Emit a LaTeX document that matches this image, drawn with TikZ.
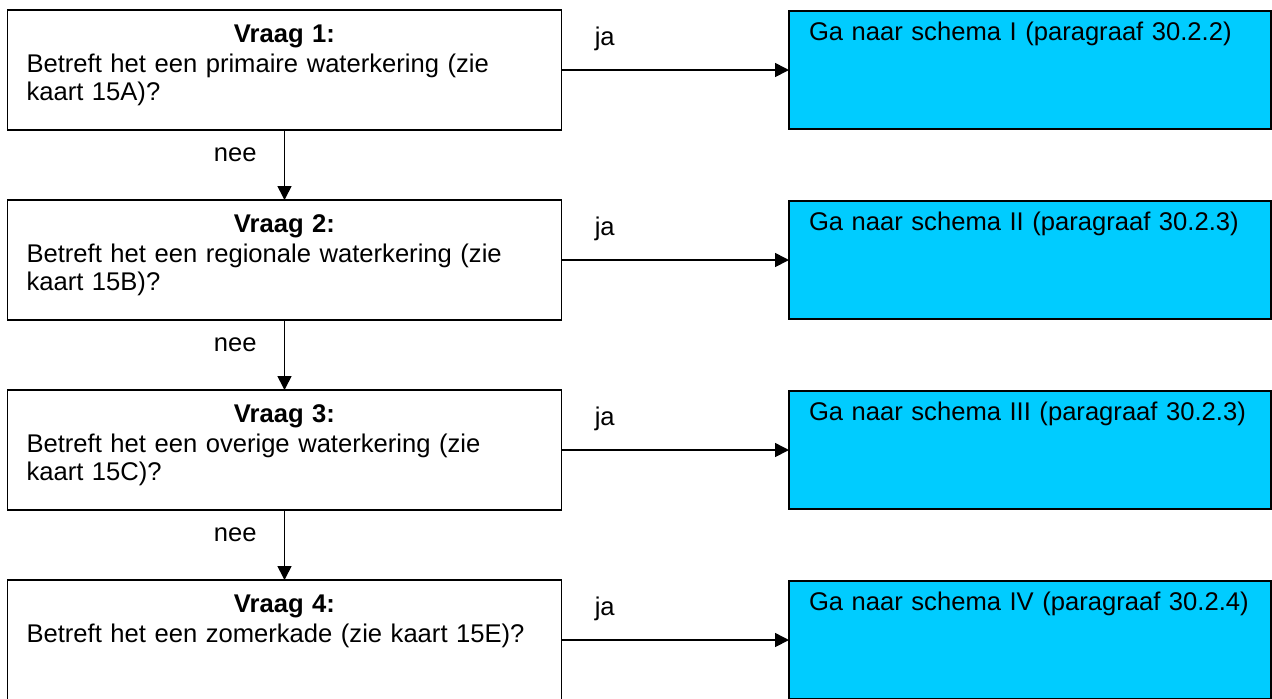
\documentclass[tikz,border=0pt]{standalone}
\usepackage{fontspec}
\setmainfont{Liberation Sans}
\usetikzlibrary{positioning,arrows.meta}
\definecolor{schemablue}{RGB}{0,204,255}
\tikzset{
  vraag/.style={draw, line width=0.8pt, outer sep=0pt, text width=258pt, align=left,
    inner xsep=9.5pt, inner ysep=0pt, text height=16pt, text depth=44pt,
    font=\fontsize{12.8}{14}\selectfont},
  schema/.style={draw, fill=schemablue, line width=0.8pt, outer sep=0pt, text width=221pt, align=left,
    inner xsep=10pt, inner ysep=0pt, text height=14.5pt, text depth=44.25pt,
    font=\fontsize{12.8}{14}\selectfont},
  pijl/.style={-{Triangle[length=7pt,width=7pt]}, line width=0.8pt},
  tekst/.style={inner sep=3pt, font=\fontsize{12.8}{14}\selectfont}
}
\begin{document}
\begin{tikzpicture}[x=1pt,y=1pt]
  \useasboundingbox (0,0) rectangle (636,-349);
  \node[vraag, anchor=north west] (v1) at (3.75,-5) {\makebox[\linewidth]{\bfseries Vraag 1:}\\[1pt]Betreft het een primaire waterkering (zie\\kaart 15A)?};
  \node[vraag, below=35pt of v1] (v2) {\makebox[\linewidth]{\bfseries Vraag 2:}\\[1pt]Betreft het een regionale waterkering (zie\\kaart 15B)?};
  \node[vraag, below=35pt of v2] (v3) {\makebox[\linewidth]{\bfseries Vraag 3:}\\[1pt]Betreft het een overige waterkering (zie\\kaart 15C)?};
  \node[vraag, below=35pt of v3] (v4) {\makebox[\linewidth]{\bfseries Vraag 4:}\\[1pt]Betreft het een zomerkade (zie kaart 15E)?};
  \node[schema, right=113.75pt of v1] (s1) {Ga naar schema I (paragraaf 30.2.2)};
  \node[schema, right=113.75pt of v2] (s2) {Ga naar schema II (paragraaf 30.2.3)};
  \node[schema, right=113.75pt of v3] (s3) {Ga naar schema III (paragraaf 30.2.3)};
  \node[schema, right=113.75pt of v4] (s4) {Ga naar schema IV (paragraaf 30.2.4)};

  \path
    (v1) edge[pijl] node[tekst, left=10.5pt, pos=0.35] {nee} (v2)
    (v2) edge[pijl] node[tekst, left=10.5pt, pos=0.35] {nee} (v3)
    (v3) edge[pijl] node[tekst, left=10.5pt, pos=0.35] {nee} (v4)
    (v1) edge[pijl] node[tekst, above=6pt, pos=0.19] {ja} (s1)
    (v2) edge[pijl] node[tekst, above=6pt, pos=0.19] {ja} (s2)
    (v3) edge[pijl] node[tekst, above=6pt, pos=0.19] {ja} (s3)
    (v4) edge[pijl] node[tekst, above=6pt, pos=0.19] {ja} (s4);
\end{tikzpicture}
\end{document}
